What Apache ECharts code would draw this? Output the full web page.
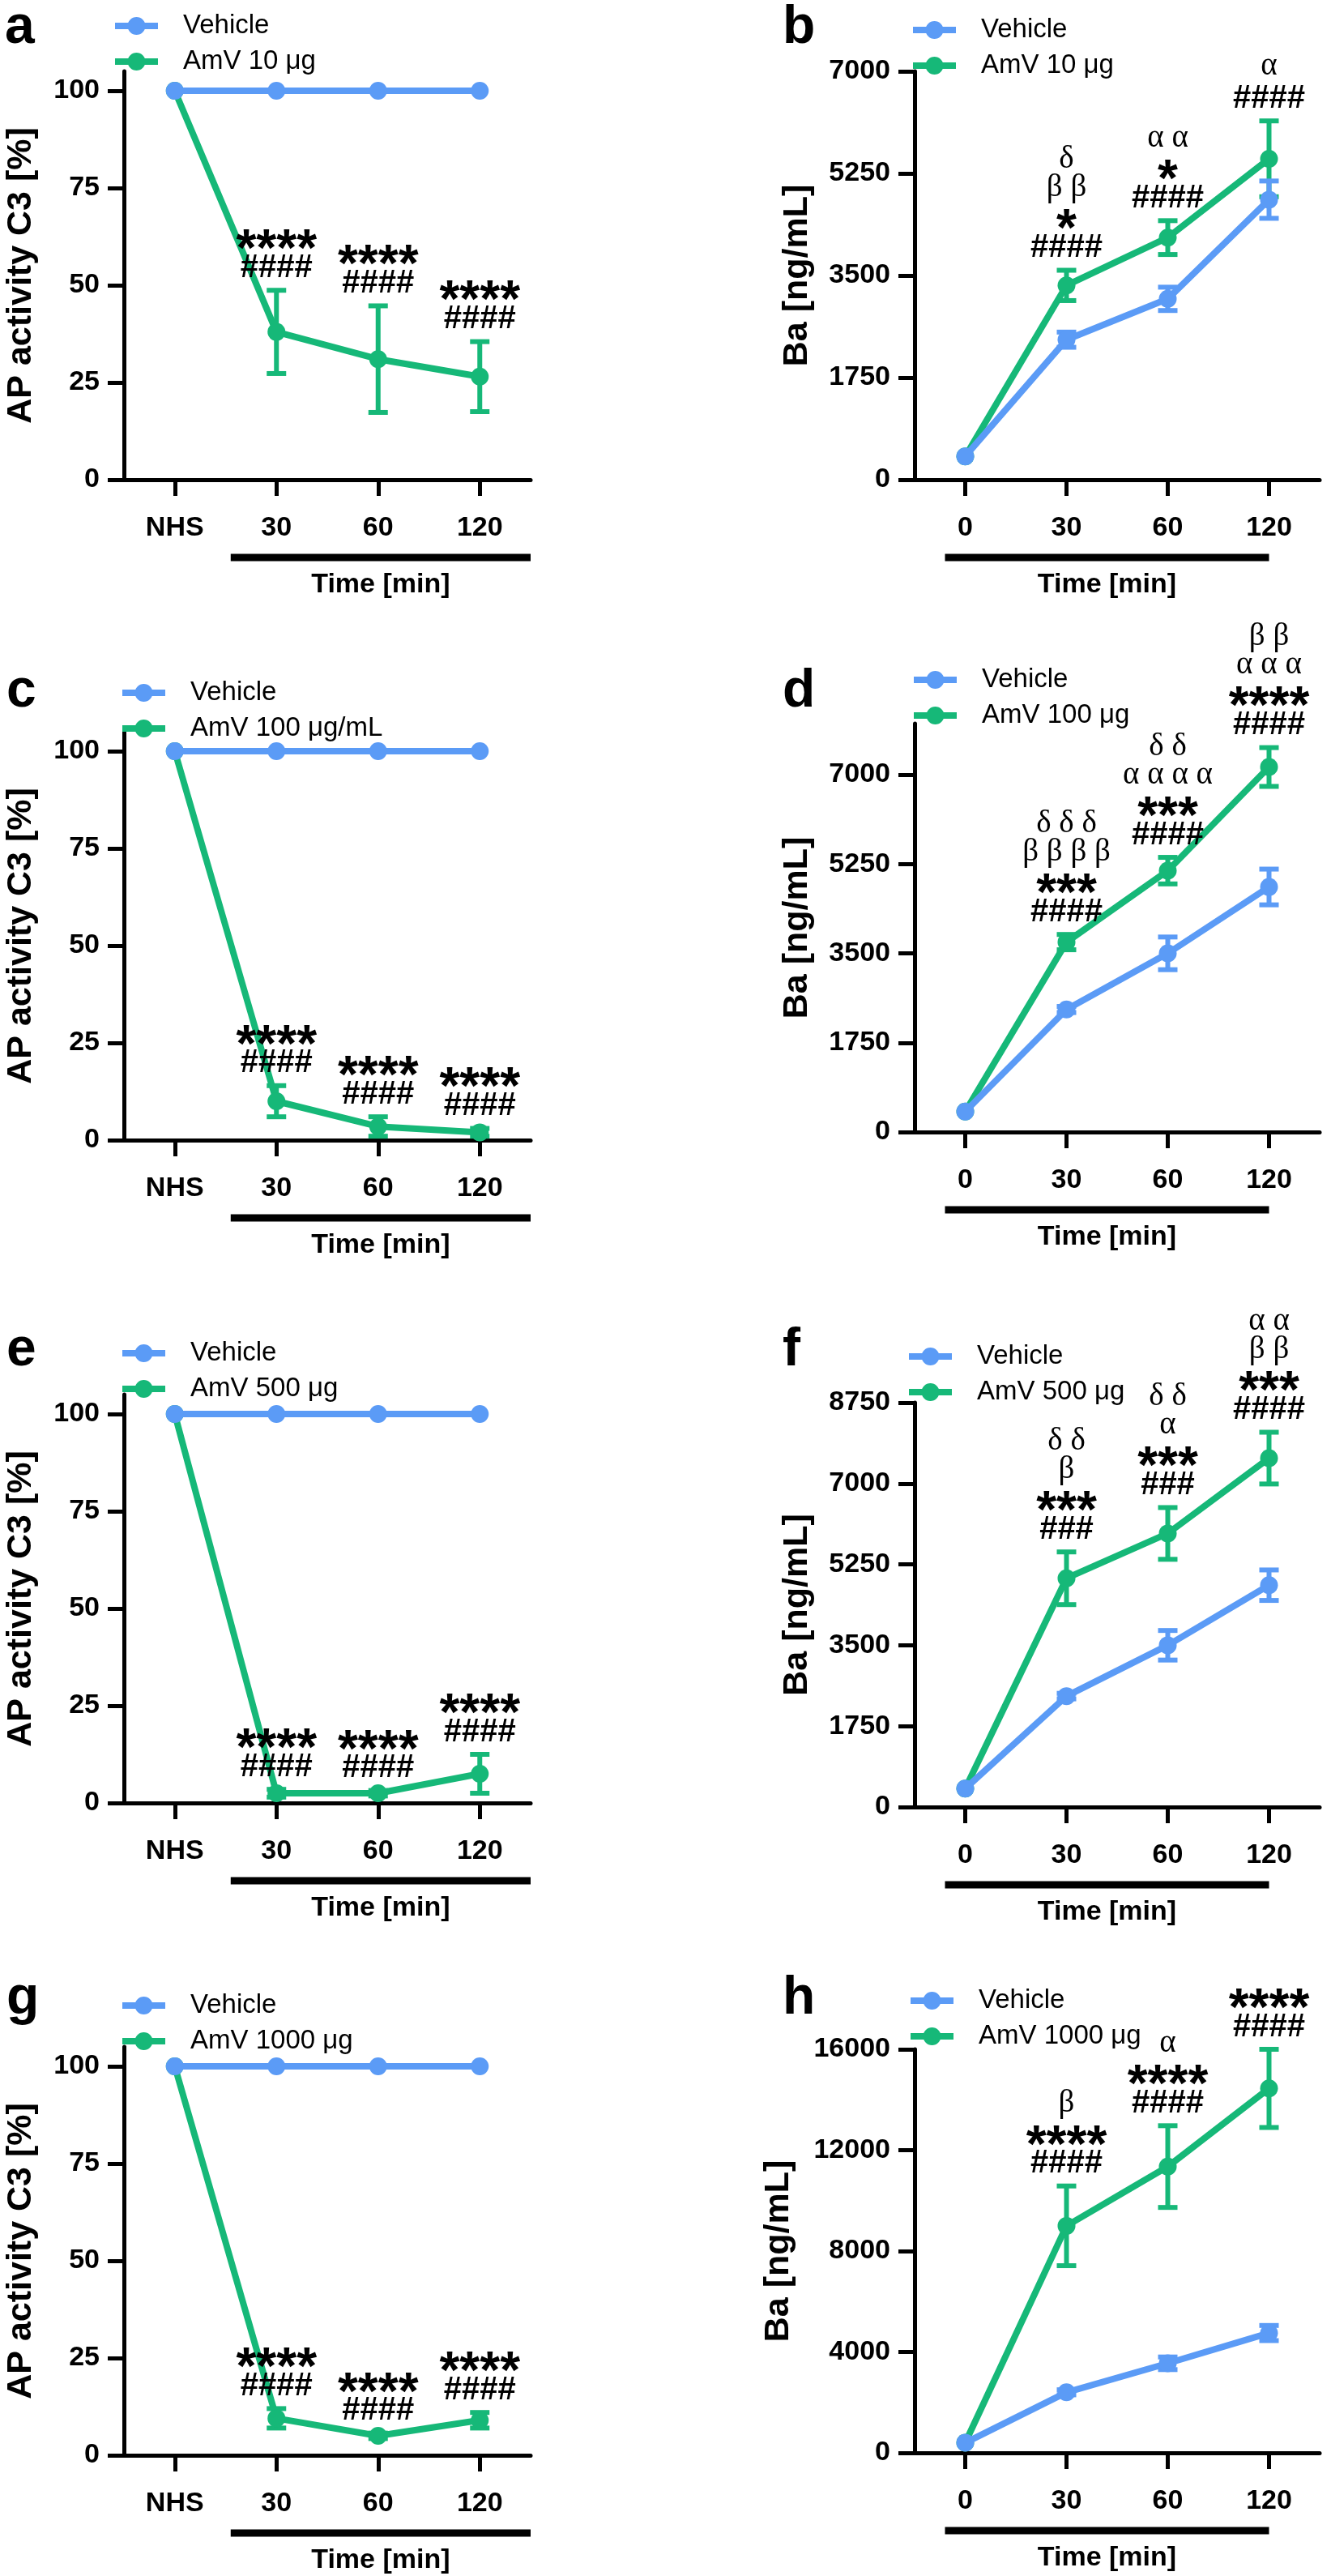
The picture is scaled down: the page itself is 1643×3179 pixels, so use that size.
<!DOCTYPE html>
<html><head><meta charset="utf-8">
<script src="https://cdn.jsdelivr.net/npm/echarts@6/dist/echarts.min.js"></script>
<style>html,body{margin:0;padding:0;background:#fff}#c{width:1643px;height:3179px}</style>
</head><body><div id="c"></div>
<script>
// ---------------- DATA ----------------
const catsC3 = ['NHS', '30', '60', '120'];
const catsBa = ['0', '30', '60', '120'];
const C3_TICKS = [0, 25, 50, 75, 100];
const BA_TICKS_7000 = [0, 1750, 3500, 5250, 7000];
const BA_TICKS_8750 = [0, 1750, 3500, 5250, 7000, 8750];
const BA_TICKS_16000 = [0, 4000, 8000, 12000, 16000];
const yNameC3 = 'AP activity C3 [%]';
const yNameBa = 'Ba [ng/mL]';
const xName = 'Time [min]';
const vehicleName = 'Vehicle';

// panel a
const aAmVName = 'AmV 10 μg';
const aVehicle = [100, 100, 100, 100];
const aVehicleErr = [0, 0, 0, 0];
const aAmV = [100, 38, 31, 26.5];
const aAmVErr = [0, 10.7, 13.7, 9];
const aNotes = [[], ['****', '####'], ['****', '####'], ['****', '####']];

// panel b
const bAmVName = 'AmV 10 μg';
const bVehicle = [400, 2400, 3100, 4800];
const bVehicleErr = [0, 130, 200, 320];
const bAmV = [400, 3330, 4150, 5500];
const bAmVErr = [0, 260, 290, 650];
const bNotes = [[], ['δ', 'β β', '*', '####'], ['α α', '*', '####'], ['α', '####']];

// panel c
const cAmVName = 'AmV 100 μg/mL';
const cVehicle = [100, 100, 100, 100];
const cVehicleErr = [0, 0, 0, 0];
const cAmV = [100, 10, 3.5, 2];
const cAmVErr = [0, 4, 2.5, 1];
const cNotes = [[], ['****', '####'], ['****', '####'], ['****', '####']];

// panel d
const dAmVName = 'AmV 100 μg';
const dVehicle = [400, 2400, 3500, 4800];
const dVehicleErr = [0, 60, 320, 350];
const dAmV = [400, 3720, 5120, 7150];
const dAmVErr = [0, 150, 260, 380];
const dNotes = [[], ['δ δ δ', 'β β β β', '***', '####'], ['δ δ', 'α α α α', '***', '####'], ['β β', 'α α α', '****', '####']];

// panel e
const eAmVName = 'AmV 500 μg';
const eVehicle = [100, 100, 100, 100];
const eVehicleErr = [0, 0, 0, 0];
const eAmV = [100, 2.5, 2.5, 7.5];
const eAmVErr = [0, 1, 0.7, 5];
const eNotes = [[], ['****', '####'], ['****', '####'], ['****', '####']];

// panel f
const fAmVName = 'AmV 500 μg';
const fVehicle = [400, 2400, 3500, 4800];
const fVehicleErr = [0, 60, 320, 330];
const fAmV = [400, 4950, 5920, 7550];
const fAmVErr = [0, 570, 560, 560];
const fNotes = [[], ['δ δ', 'β', '***', '###'], ['δ δ', 'α', '***', '###'], ['α α', 'β β', '***', '####']];

// panel g
const gAmVName = 'AmV 1000 μg';
const gVehicle = [100, 100, 100, 100];
const gVehicleErr = [0, 0, 0, 0];
const gAmV = [100, 9.5, 5, 9];
const gAmVErr = [0, 2.5, 0.7, 2];
const gNotes = [[], ['****', '####'], ['****', '####'], ['****', '####']];

// panel h
const hAmVName = 'AmV 1000 μg';
const hVehicle = [400, 2400, 3550, 4750];
const hVehicleErr = [0, 100, 250, 300];
const hAmV = [400, 9000, 11350, 14450];
const hAmVErr = [0, 1580, 1620, 1550];
const hNotes = [[], ['β', '****', '####'], ['α', '****', '####'], ['****', '####']];

// ---------------- PANELS ----------------
const panels = [
  {key: 'a', cats: catsC3, veh: aVehicle, vehErr: aVehicleErr, amv: aAmV, amvErr: aAmVErr, notes: aNotes, amvName: aAmVName, yName: yNameC3, ticks: C3_TICKS, max: 105, barFrom: 1},
  {key: 'b', cats: catsBa, veh: bVehicle, vehErr: bVehicleErr, amv: bAmV, amvErr: bAmVErr, notes: bNotes, amvName: bAmVName, yName: yNameBa, ticks: BA_TICKS_7000, max: 7000, barFrom: 0},
  {key: 'c', cats: catsC3, veh: cVehicle, vehErr: cVehicleErr, amv: cAmV, amvErr: cAmVErr, notes: cNotes, amvName: cAmVName, yName: yNameC3, ticks: C3_TICKS, max: 105, barFrom: 1},
  {key: 'd', cats: catsBa, veh: dVehicle, vehErr: dVehicleErr, amv: dAmV, amvErr: dAmVErr, notes: dNotes, amvName: dAmVName, yName: yNameBa, ticks: BA_TICKS_7000, max: 8000, barFrom: 0},
  {key: 'e', cats: catsC3, veh: eVehicle, vehErr: eVehicleErr, amv: eAmV, amvErr: eAmVErr, notes: eNotes, amvName: eAmVName, yName: yNameC3, ticks: C3_TICKS, max: 105, barFrom: 1},
  {key: 'f', cats: catsBa, veh: fVehicle, vehErr: fVehicleErr, amv: fAmV, amvErr: fAmVErr, notes: fNotes, amvName: fAmVName, yName: yNameBa, ticks: BA_TICKS_8750, max: 8750, barFrom: 0},
  {key: 'g', cats: catsC3, veh: gVehicle, vehErr: gVehicleErr, amv: gAmV, amvErr: gAmVErr, notes: gNotes, amvName: gAmVName, yName: yNameC3, ticks: C3_TICKS, max: 105, barFrom: 1},
  {key: 'h', cats: catsBa, veh: hVehicle, vehErr: hVehicleErr, amv: hAmV, amvErr: hAmVErr, notes: hNotes, amvName: hAmVName, yName: yNameBa, ticks: BA_TICKS_16000, max: 16000, barFrom: 0}
];

// ---------------- LAYOUT / STYLE ----------------
// bar: [start offset, end offset] in category-band units relative to first / last covered category centre
const LEFT_BAR = [-0.45, 0.5];
const RIGHT_BAR = [-0.2, 0.0];
const geo = {
  a: {left: 153, top: 88,   width: 502, height: 504, letter: [6, 35],     legend: [137, 27],   nameGap: 105, bar: LEFT_BAR},
  b: {left: 1129, top: 88,  width: 500, height: 504, letter: [966, 35],   legend: [1122, 32],  nameGap: 123, bar: RIGHT_BAR},
  c: {left: 153, top: 903,  width: 502, height: 504, letter: [8, 854],    legend: [146, 850],  nameGap: 105, bar: LEFT_BAR},
  d: {left: 1129, top: 893, width: 500, height: 504, letter: [966, 854],  legend: [1123, 834], nameGap: 123, bar: RIGHT_BAR},
  e: {left: 153, top: 1721, width: 502, height: 504, letter: [8, 1667],   legend: [146, 1665], nameGap: 105, bar: LEFT_BAR},
  f: {left: 1129, top: 1731, width: 500, height: 499, letter: [966, 1667], legend: [1117, 1669], nameGap: 123, bar: RIGHT_BAR},
  g: {left: 153, top: 2526, width: 502, height: 504, letter: [8, 2467],   legend: [146, 2470], nameGap: 105, bar: LEFT_BAR},
  h: {left: 1129, top: 2529, width: 500, height: 498, letter: [966, 2467], legend: [1119, 2464], nameGap: 146, bar: RIGHT_BAR}
};
const FONT = '"Liberation Sans", Arial, sans-serif';
const SERIF = '"Liberation Serif", "Times New Roman", serif';
const BLUE = '#5b9bf6';
const GREEN = '#16b878';
// legend glyph: thick line with a filled circle in the middle (53 x 22)
const LEGEND_ICON = 'path://M0,7 L53,7 L53,15 L0,15 Z M15.5,11 A11,11 0 1,1 37.5,11 A11,11 0 1,1 15.5,11 Z';

function errRender(params, api) {
  const i = api.value(0), hi = api.value(1), lo = api.value(2);
  if (hi === lo) return null;
  const pHi = api.coord([i, hi]), pLo = api.coord([i, lo]);
  const w = 12;
  const st = {stroke: api.visual('color'), lineWidth: 6};
  return {type: 'group', children: [
    {type: 'line', shape: {x1: pHi[0], y1: pHi[1], x2: pLo[0], y2: pLo[1]}, style: st},
    {type: 'line', shape: {x1: pHi[0] - w, y1: pHi[1], x2: pHi[0] + w, y2: pHi[1]}, style: st},
    {type: 'line', shape: {x1: pLo[0] - w, y1: pLo[1], x2: pLo[0] + w, y2: pLo[1]}, style: st}
  ]};
}

const STAR_SIZE = 64, HASH_SIZE = 40, GREEK_SIZE = 39;
function makeNoteRender(notes) {
  return function (params, api) {
    const lines = notes[params.dataIndex] || [];
    if (!lines.length) return null;
    const p = api.coord([api.value(0), api.value(1)]);
    const children = [];
    let prevType = null, ref = p[1] - 3;   // top edge of the error cap
    for (let k = lines.length - 1; k >= 0; k--) {
      const t = lines[k];
      const type = t[0] === '#' ? 'h' : (t[0] === '*' ? 's' : 'g');
      let style, y;
      if (type === 'h') {
        ref = ref - 10 - 14.5;
        y = ref;
        style = {fontSize: HASH_SIZE, fontFamily: FONT, fontWeight: 'bold'};
      } else if (type === 's') {
        ref = ref - 35;
        y = ref + 0.23 * STAR_SIZE;
        style = {fontSize: STAR_SIZE, fontFamily: FONT, fontWeight: 'bold'};
      } else {
        if (prevType === 'g') ref = ref - 35;
        else if (prevType === 's') ref = ref - 26;
        else ref = ref - 27;
        y = ref - 0.3375 * GREEK_SIZE;
        style = {fontSize: GREEK_SIZE, fontFamily: SERIF, fontWeight: 'normal'};
      }
      prevType = type;
      children.push({type: 'text', x: p[0], y: y, style: Object.assign({text: t, fill: '#000', align: 'center', verticalAlign: 'middle'}, style)});
    }
    return {type: 'group', children: children};
  };
}

function makeBarRender(barOff) {
  return function (params, api) {
    const s = api.coord([api.value(0), 0]);
    const e = api.coord([api.value(2), 0]);
    const band = api.size([1, 0])[0];
    const x1 = s[0] + barOff[0] * band, x2 = e[0] + barOff[1] * band, y = s[1] + 96;
    return {type: 'group', children: [
      {type: 'rect', shape: {x: x1, y: y - 4.5, width: x2 - x1, height: 9}, style: {fill: '#000'}},
      {type: 'text', x: (x1 + x2) / 2, y: y + 34, style: {text: xName, fill: '#000', fontSize: 34, fontWeight: 'bold', fontFamily: FONT, align: 'center', verticalAlign: 'middle'}}
    ]};
  };
}

const option = {animation: false, backgroundColor: '#fff', grid: [], xAxis: [], yAxis: [], series: [], legend: [], graphic: []};
panels.forEach((p, i) => {
  const g = geo[p.key];
  option.grid.push({left: g.left, top: g.top, width: g.width, height: g.height, containLabel: false, outerBoundsMode: 'none'});
  option.xAxis.push({
    type: 'category', gridIndex: i, data: p.cats, boundaryGap: true,
    axisLine: {show: true, onZero: false, lineStyle: {color: '#000', width: 5}},
    axisTick: {show: true, alignWithLabel: true, length: 20, lineStyle: {color: '#000', width: 5}},
    axisLabel: {show: true, interval: 0, margin: 43, color: '#000', fontSize: 34, fontWeight: 'bold', fontFamily: FONT},
    splitLine: {show: false}
  });
  option.yAxis.push({
    type: 'value', gridIndex: i, min: 0, max: p.max,
    name: p.yName, nameLocation: 'middle', nameGap: g.nameGap, nameRotate: 90,
    nameTextStyle: {color: '#000', fontSize: 43, fontWeight: 'bold', fontFamily: FONT},
    axisLine: {show: true, lineStyle: {color: '#000', width: 5}},
    axisTick: {show: true, length: 20, customValues: p.ticks, lineStyle: {color: '#000', width: 5}},
    axisLabel: {show: true, customValues: p.ticks, margin: 30, color: '#000', fontSize: 34, fontWeight: 'bold', fontFamily: FONT,
      formatter: v => String(v)},
    splitLine: {show: false}
  });
  option.series.push({
    type: 'line', name: p.amvName, xAxisIndex: i, yAxisIndex: i, data: p.amv,
    symbol: 'circle', symbolSize: 22, showSymbol: true,
    lineStyle: {width: 8, color: GREEN}, itemStyle: {color: GREEN}, z: 3
  });
  option.series.push({
    type: 'custom', xAxisIndex: i, yAxisIndex: i, renderItem: errRender, silent: true,
    data: p.amv.map((v, k) => [k, v + p.amvErr[k], v - p.amvErr[k]]),
    encode: {x: 0, y: [1, 2]}, itemStyle: {color: GREEN}, z: 3
  });
  option.series.push({
    type: 'line', name: vehicleName, xAxisIndex: i, yAxisIndex: i, data: p.veh,
    symbol: 'circle', symbolSize: 22, showSymbol: true,
    lineStyle: {width: 8, color: BLUE}, itemStyle: {color: BLUE}, z: 4
  });
  option.series.push({
    type: 'custom', xAxisIndex: i, yAxisIndex: i, renderItem: errRender, silent: true,
    data: p.veh.map((v, k) => [k, v + p.vehErr[k], v - p.vehErr[k]]),
    encode: {x: 0, y: [1, 2]}, itemStyle: {color: BLUE}, z: 4
  });
  option.series.push({
    type: 'custom', xAxisIndex: i, yAxisIndex: i, renderItem: makeNoteRender(p.notes), silent: true,
    data: p.amv.map((v, k) => [k, v + p.amvErr[k]]), encode: {x: 0, y: 1}, z: 10
  });
  option.series.push({
    type: 'custom', xAxisIndex: i, yAxisIndex: i, renderItem: makeBarRender(g.bar), silent: true,
    data: [[p.barFrom, 0, p.cats.length - 1]], encode: {x: 0, y: 1}, z: 10
  });
  option.legend.push({
    orient: 'vertical', left: g.legend[0], top: g.legend[1] - 19,
    itemWidth: 53, itemHeight: 22, itemGap: 6, selectedMode: false,
    icon: LEGEND_ICON, itemStyle: {borderWidth: 0},
    data: [vehicleName, p.amvName],
    textStyle: {fontSize: 33, fontFamily: FONT, color: '#000', lineHeight: 38, padding: [0, 0, 0, 26]}
  });
  option.graphic.push({
    type: 'text', x: g.letter[0], y: g.letter[1],
    style: {text: p.key, fontSize: 66, fontWeight: 'bold', fontFamily: FONT, fill: '#000', align: 'left', verticalAlign: 'middle'}
  });
});

const chart = echarts.init(document.getElementById('c'), null, {renderer: 'canvas'});
chart.setOption(option);
</script>
</body></html>
